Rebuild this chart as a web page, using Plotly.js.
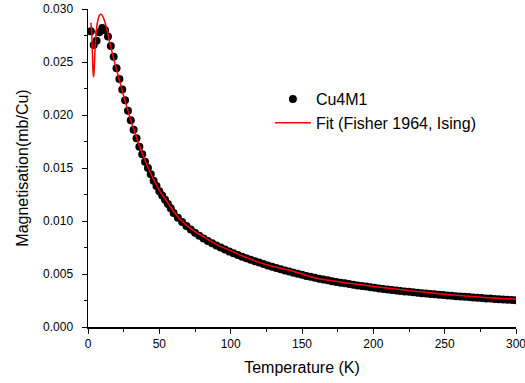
<!DOCTYPE html>
<html>
<head>
<meta charset="utf-8">
<script src="https://cdn.plot.ly/plotly-3.0.1.min.js"></script>
<style>html,body{margin:0;padding:0;background:#fff;overflow:hidden;}#chart{width:525px;height:383px;}</style>
</head>
<body>
<div id="chart"></div>
<script>
// Measured data (Cu4M1)
const dataT = [2,4,6,8,10,12,14,16,18,20,22,24,26,28,30,32,34,36,38,40,42,44,46,48,50,52,54,56,58,60,
  63,66,69,72,75,78,81,84,87,90,93,96,99,102,105,108,111,114,117,120,123,126,129,132,135,138,141,144,147,150,
  153,156,159,162,165,168,171,174,177,180,183,186,189,192,195,198,201,204,207,210,213,216,219,222,225,228,
  231,234,237,240,243,246,249,252,255,258,261,264,267,270,273,276,279,282,285,288,291,294,297,300];
const dataM = [0.0279,0.0266,0.0270,0.0278,0.0282,0.0280,0.0274,0.0265,0.0255,0.0244,0.0234,0.0224,0.0214,0.0204,0.0195,0.0186,0.0178,0.0170,0.0163,0.0156,0.0150,0.0144,0.0138,0.0133,0.0128,0.0124,0.0120,0.0116,0.0112,0.01075,
  0.01030,0.00990,0.00953,0.00920,0.00890,0.00862,0.00836,0.00812,0.00790,0.00769,0.00749,0.00730,0.00712,0.00695,0.00679,0.00663,0.00648,0.00634,0.00621,0.00608,0.00594,0.00581,0.00569,0.00557,0.00545,0.00534,0.00523,0.00512,0.00502,0.00492,
  0.00482,0.00473,0.00464,0.00456,0.00448,0.00440,0.00432,0.00425,0.00418,0.00412,0.00405,0.00398,0.00392,0.00386,0.00381,0.00375,0.00370,0.00364,0.00359,0.00354,0.00350,0.00345,0.00340,0.00336,0.00332,0.00327,
  0.00323,0.00319,0.00315,0.00312,0.00308,0.00304,0.00301,0.00297,0.00294,0.00291,0.00288,0.00285,0.00282,0.00279,0.00276,0.00273,0.00270,0.00268,0.00265,0.00262,0.00260,0.00257,0.00255,0.00252];

// Fit curve (Fisher 1964, Ising)
const fitT = [2.0,2.5,3.0,3.4,3.8,4.2,4.7,5.3,6,7,8,9,10,11,12,13,14,15,16,18,20,22,24,26,28,30,33,36,40,45,50,55,60,65,70,75,80,90,100,110,120,130,140,150,160,170,180,190,200,210,220,230,240,250,260,270,280,290,300];
const fitM = [0.0287,0.0280,0.0262,0.0245,0.0236,0.0240,0.0255,0.0270,0.0282,0.0290,0.0294,0.0295,0.0294,0.0291,0.0287,0.0282,0.0276,0.0270,0.0264,0.0253,0.0243,0.0233,0.0223,0.0213,0.0204,0.0195,0.0183,0.0171,0.0157,0.0142,0.0129,0.0119,0.0109,0.0101,0.0095,0.0090,0.0086,0.0078,0.0072,0.0066,0.0061,0.0057,0.0054,0.0050,0.0046,0.00438,0.00418,0.00400,0.00383,0.00367,0.00352,0.00336,0.00322,0.00309,0.00297,0.00287,0.00277,0.00269,0.00261];

const seriesNames = ['Cu4M1', 'Fit (Fisher 1964, Ising)'];
const xTitle = 'Temperature (K)';
const yTitle = 'Magnetisation(mb/Cu)';

const font = 'Arial, "Liberation Sans", sans-serif';

const traces = [
  {x: dataT, y: dataM, type: 'scatter', mode: 'markers', name: seriesNames[0],
   marker: {color: '#000', size: 8, line: {width: 0}}},
  {x: fitT, y: fitM, type: 'scatter', mode: 'lines', name: seriesNames[1],
   line: {color: '#ff0000', width: 1.5, shape: 'spline'}}
];

const layout = {
  width: 525, height: 383,
  margin: {l: 88, r: 9, t: 9, b: 56},
  paper_bgcolor: '#fff', plot_bgcolor: '#fff',
  font: {family: font, color: '#000', size: 12},
  showlegend: true,
  legend: {x: 0.425, y: 0.77, xanchor: 'left', yanchor: 'top', bgcolor: 'rgba(0,0,0,0)',
           font: {family: font, size: 16, color: '#000'}, itemwidth: 36, tracegroupgap: 0},
  xaxis: {range: [0, 300], showline: true, linecolor: '#000', linewidth: 1.5, mirror: false,
          showgrid: false, zeroline: false, ticks: 'outside', ticklen: 5, tickwidth: 1, tickcolor: '#000',
          dtick: 50, tick0: 0, ticklabeloverflow: 'allow',
          minor: {ticks: 'outside', ticklen: 3, dtick: 25, tickcolor: '#000', tickwidth: 1, showgrid: false},
          tickfont: {family: font, size: 12, color: '#000'},
          title: {text: xTitle, font: {family: font, size: 16, color: '#000'}, standoff: 12}},
  yaxis: {range: [0, 0.030], showline: true, linecolor: '#000', linewidth: 1.5, mirror: false,
          showgrid: false, zeroline: false, ticks: 'outside', ticklen: 5, tickwidth: 1, tickcolor: '#000',
          dtick: 0.005, tick0: 0, tickformat: '.3f', ticklabelstandoff: 6,
          minor: {ticks: 'outside', ticklen: 3, dtick: 0.0025, tickcolor: '#000', tickwidth: 1, showgrid: false},
          tickfont: {family: font, size: 12, color: '#000'},
          title: {text: yTitle, font: {family: font, size: 16, color: '#000'}, standoff: 10}}
};

Plotly.newPlot('chart', traces, layout, {displayModeBar: false, staticPlot: true});
</script>
</body>
</html>
